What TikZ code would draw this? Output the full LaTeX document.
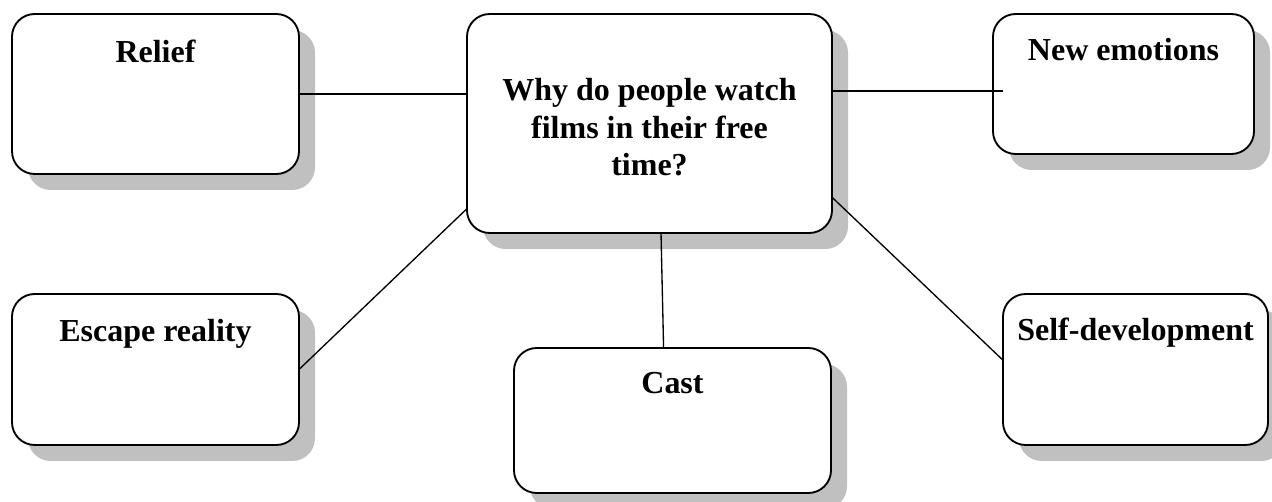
\documentclass[tikz,border=0pt]{standalone}
\usepackage{fontspec}
\setmainfont{Liberation Serif}
\usetikzlibrary{shadows}

\begin{document}
\begin{tikzpicture}[x=0.75pt,y=-0.75pt,
  box/.style={draw=drawColor,fill=white,line width=1.4pt,rounded corners=17pt,
    inner sep=0pt,outer sep=0pt,anchor=north west,
    font=\fontsize{24}{28.2}\selectfont\bfseries,
    drop shadow={shadow xshift=12pt,shadow yshift=-12pt,fill=shadowColor,opacity=1}},
  link/.style={draw=drawColor,line width=1pt}]
\definecolor{drawColor}{RGB}{0,0,0}
\definecolor{shadowColor}{RGB}{192,192,192}
\path[use as bounding box,fill=white] (0,0) rectangle (1272,502);

\node[box,minimum width=273.75pt,text height=121.5pt,text depth=42.75pt,align=center] (center) at (467,14)
  {Why do people watch\\films in their free\\time?};

\node[box,minimum width=215.25pt,text height=36.75pt,text depth=83.25pt] (relief) at ( 12, 14) {Relief};
\node[box,minimum width=215.25pt,text height=36pt,text depth=77.25pt] (escape) at ( 12,294) {Escape reality};
\node[box,minimum width=195.75pt,text height=35.25pt,text depth=69.75pt] (ne) at (993, 14) {New emotions};
\node[box,minimum width=237.75pt,text height=34.5pt,text depth=74.25pt] (cast) at (514,348) {Cast};
\node[box,minimum width=198.75pt,text height=35.25pt,text depth=78pt] (selfdev) at (1003,294) {Self-development};

\draw[link] (relief.east) -- (relief.east -| center.west);
\draw[link] (center.east |- ne.183) -- ([xshift=7.5pt]ne.183);
\draw[link] (center.205) -- (escape.east);
\draw[link] (center.276) -- (cast.97);
\draw[link] (center.338) -- (selfdev.176);
\end{tikzpicture}
\end{document}
